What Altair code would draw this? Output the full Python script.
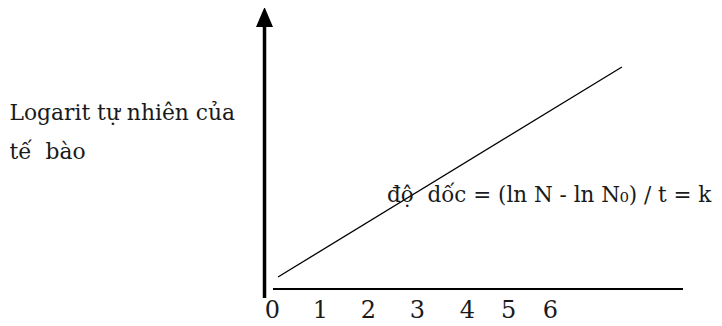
import altair as alt
import pandas as pd

# ---- values ----
time_ticks = [0, 1, 2, 3.02, 4.06, 4.92, 5.79]          # where the tick labels sit (time units)
tick_labels = ["0", "1", "2", "3", "4", "5", "6"]
growth_time = [0.125, 7.29]                              # line start / end (time)
growth_ln = [0.4, 7.4]                                   # ln N at start / end
y_title = ["Logarit tự nhiên của", "tế\u00a0\u00a0bào"]
slope_text = "độ\u00a0 dốc = (ln N - ln N₀) / t = k"

# axis decorations (data units)
x_axis_from, x_axis_to = 0.02, 8.5625
y_axis_at, y_axis_from, y_axis_to = -0.156, -0.3, 8.83
arrow_at = 9.067
slope_label_t, slope_label_ln = 2.396, 2.9

FONT = "DejaVu Serif"
INK = "#1a1a1a"

xs = alt.Scale(domain=[-5.5, 9.2083], nice=False, zero=False)
ys = alt.Scale(domain=[0, 9.3667], nice=False, zero=False)

label_expr = "[" + ",".join("'" + s + "'" for s in tick_labels) + "][round(datum.value)]"

x_axis = alt.Axis(
    values=time_ticks, labelExpr=label_expr, domain=False, ticks=False, tickSize=0,
    grid=False, labelPadding=28, labelBaseline="alphabetic", labelFont=FONT,
    labelFontSize=24, labelColor=INK, labelAngle=0, labelFlush=False,
    labelOverlap=False, title=None)
y_axis = alt.Axis(
    domain=False, ticks=False, labels=False, grid=False, title=y_title,
    titleAngle=0, titleAlign="left", titleBaseline="alphabetic", titleX=1,
    titleY=111, titleFont=FONT, titleFontSize=21.8, titleFontWeight="normal",
    titleColor=INK, titleLineHeight=39.5)

X = lambda f: alt.X(f, scale=xs, axis=x_axis)
Y = lambda f: alt.Y(f, scale=ys, axis=y_axis)

line_df = pd.DataFrame({"t": growth_time, "lnN": growth_ln})
line = alt.Chart(line_df).mark_line(color="#000", strokeWidth=1.3).encode(
    x=X("t:Q"), y=Y("lnN:Q"))

xaxis_df = pd.DataFrame({"t": [x_axis_from], "t2": [x_axis_to], "lnN": [0]})
xaxis = alt.Chart(xaxis_df).mark_rule(color="#000", strokeWidth=2).encode(
    x=X("t:Q"), x2="t2:Q", y=Y("lnN:Q"))

yaxis_df = pd.DataFrame({"t": [y_axis_at], "lnN": [y_axis_from], "lnN2": [y_axis_to]})
yaxis = alt.Chart(yaxis_df).mark_rule(color="#000", strokeWidth=3.5, strokeCap="butt").encode(
    x=X("t:Q"), y=Y("lnN:Q"), y2="lnN2:Q")

arrow_df = pd.DataFrame({"t": [y_axis_at], "lnN": [arrow_at]})
arrow = alt.Chart(arrow_df).mark_point(
    shape="M0,-1L-0.85,1L0.85,1Z", filled=True, size=400, color="#000", opacity=1
).encode(x=X("t:Q"), y=Y("lnN:Q"))

label_df = pd.DataFrame({"t": [slope_label_t], "lnN": [slope_label_ln], "label": [slope_text]})
label = alt.Chart(label_df).mark_text(
    align="left", baseline="alphabetic", font=FONT, fontSize=21.5, color=INK
).encode(x=X("t:Q"), y=Y("lnN:Q"), text="label:N")

chart = alt.layer(line, xaxis, yaxis, arrow, label).properties(
    width=706, height=281,
    padding={"left": 0, "top": 0, "right": 0, "bottom": 34},
    autosize=alt.AutoSizeParams(type="none"),
).configure_view(stroke=None)

chart.save("out.html", embed_options={"renderer": "svg", "actions": False})
